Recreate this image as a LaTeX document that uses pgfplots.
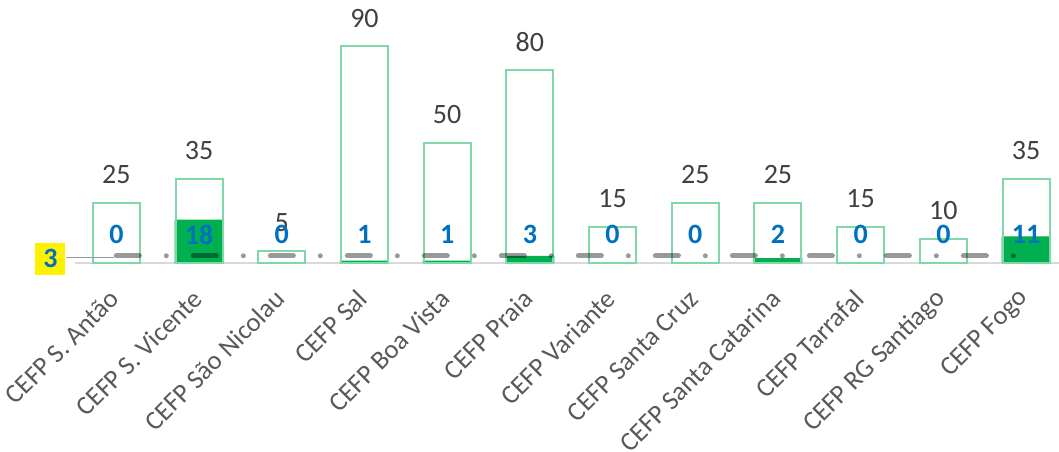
\documentclass[border=0pt]{standalone}
\usepackage{pgfplots}
\pgfplotsset{compat=1.18}
\usepackage{fontspec}
\setmainfont{Carlito}
\definecolor{outl}{RGB}{128,216,168}
\definecolor{fillg}{RGB}{0,176,80}
\definecolor{blu}{RGB}{0,112,192}
\definecolor{lab}{RGB}{64,64,64}
\definecolor{tickc}{RGB}{89,89,89}
\definecolor{basec}{RGB}{217,217,217}
\begin{document}
\begin{tikzpicture}
\useasboundingbox (0,0) rectangle (529.5pt,225.5pt);
\begin{axis}[
  at={(37.5pt,94pt)}, anchor=south west,
  x=41.35pt, y=1.205pt,
  xmin=-0.5, xmax=11.4, ymin=0, ymax=109,
  axis x line=bottom, axis y line=none,
  x axis line style={-, draw=basec, line width=1pt},
  xtick=data, xtick style={draw=none},
  xticklabels={CEFP S. Antão, CEFP S. Vicente, CEFP São Nicolau, CEFP Sal, CEFP Boa Vista, CEFP Praia, CEFP Variante, CEFP Santa Cruz, CEFP Santa Catarina, CEFP Tarrafal, CEFP RG Santiago, CEFP Fogo},
  xticklabel style={xshift=-0.7pt, yshift=-13.5pt, rotate=45, anchor=east, font=\fontsize{13.3}{15}\selectfont, text=tickc, inner sep=0pt},
  /pgf/number format/assume math mode=true,
  clip=false,
]
% filled bars (actual)
\addplot[ybar, bar width=24.5pt, bar shift=0pt, draw=none, fill=fillg]
  coordinates {(0,0) (1,18) (2,0) (3,1) (4,1) (5,3) (6,0) (7,0) (8,2) (9,0) (10,0) (11,11)};
% outline bars (capacity)
\addplot[ybar, bar width=23.5pt, bar shift=0pt, draw=outl, line width=1pt, fill=none,
  nodes near coords,
  every node near coord/.append style={anchor=center, yshift=14pt, font=\fontsize{14}{16}\selectfont, text=lab}]
  coordinates {(0,25) (1,35) (2,5) (3,90) (4,50) (5,80) (6,15) (7,25) (8,25) (9,15) (10,10) (11,35)};
% leader line for label 3
\draw[gray!80, line width=0.6pt] ([xshift=-25pt,yshift=-1pt]axis cs:0,3) -- ([xshift=-1pt,yshift=-1pt]axis cs:0,3);
% target dashed line
\addplot[sharp plot, black, opacity=0.4, line width=2.5pt, line cap=round,
  dash pattern=on 11.5pt off 13.5pt on 0pt off 13.5pt]
  coordinates {(0,3) (1,3) (2,3) (3,3) (4,3) (5,3) (6,3) (7,3) (8,3) (9,3) (10,3) (11,3)};
% label of the dashed line
\addplot[draw=none, mark=none, nodes near coords={3},
  every node near coord/.append style={anchor=center, xshift=-33pt, yshift=-1.5pt, fill=yellow, text=blu,
  font=\bfseries\fontsize{14}{16}\selectfont, minimum width=15pt, minimum height=16pt, inner sep=0pt}]
  coordinates {(0,3)};
% blue labels of actual values
\addplot[draw=none, mark=none, nodes near coords, point meta=explicit,
  every node near coord/.append style={anchor=center, font=\bfseries\fontsize{14}{16}\selectfont, text=blu}]
  coordinates {(0,11.8)[0] (1,11.8)[18] (2,11.8)[0] (3,11.8)[1] (4,11.8)[1] (5,11.8)[3] (6,11.8)[0] (7,11.8)[0] (8,11.8)[2] (9,11.8)[0] (10,11.8)[0] (11,11.8)[11]};
\end{axis}
\end{tikzpicture}
\end{document}
